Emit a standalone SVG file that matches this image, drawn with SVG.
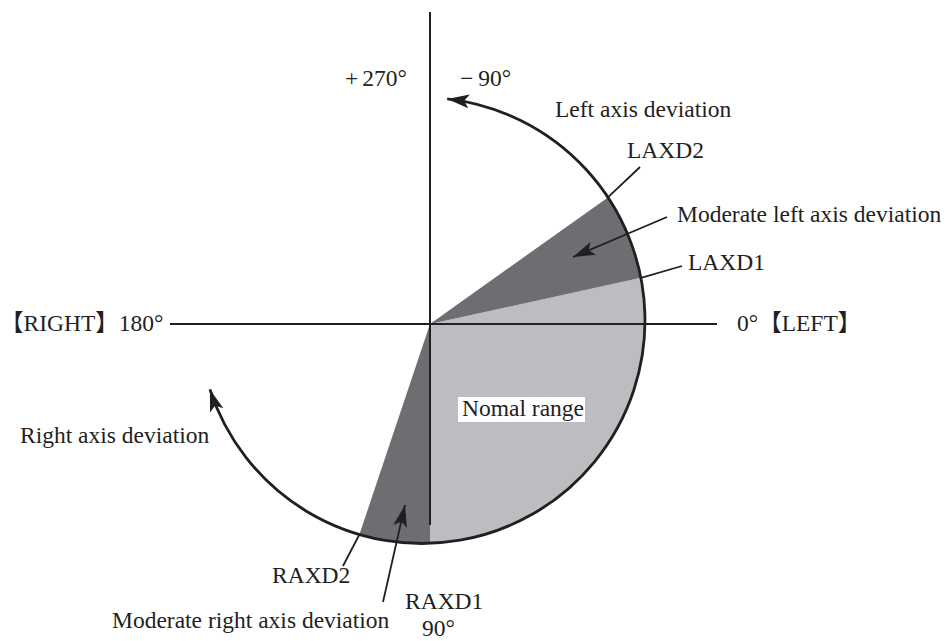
<svg xmlns="http://www.w3.org/2000/svg" width="950" height="641" viewBox="0 0 950 641">
<style>
text{font-family:"Liberation Serif","Noto Sans CJK JP",serif;font-size:23.5px;fill:#231f20}
.ax{stroke:#231f20;stroke-width:2;fill:none}
.arc{stroke:#231f20;stroke-width:2.8;fill:none}
.ld{stroke:#231f20;stroke-width:1.8;fill:none}
.light{fill:#bcbdc0}
.dark{fill:#6d6e72}
</style>
<defs>
<marker id="ah" markerUnits="userSpaceOnUse" markerWidth="24" markerHeight="16" viewBox="0 0 24 16" refX="22" refY="8" orient="auto-start-reverse">
<path d="M0,1 L22,8 L0,15 L5,8 Z" fill="#231f20"/>
</marker>
</defs>
<rect width="950" height="641" fill="#fff"/>
<g id="sectors">
<path id="normal" class="light" d="M430,324 L640.9,277.8 A223,223 0 0 1 430,543.4 Z"/>
<path id="mlad" class="dark" d="M430,324 L607.9,197.4 A223,223 0 0 1 640.9,277.8 Z"/>
<path id="mrad" class="dark" d="M430,324 L430,543.4 A223,223 0 0 1 359.4,534.5 Z"/>
</g>
<g id="axes">
<line class="ax" x1="170" y1="324" x2="717" y2="324"/>
<line class="ax" x1="430" y1="12" x2="430" y2="525"/>
</g>
<g id="connectors">
<path id="arc" class="arc" d="M447.2,98.9 A223,223 0 1 1 209.9,389.4" marker-start="url(#ah)" marker-end="url(#ah)"/>
<line class="ld" x1="607.9" y1="197.4" x2="640" y2="167"/>
<line class="ld" x1="667" y1="217" x2="573" y2="257" marker-end="url(#ah)"/>
<line class="ld" x1="641" y1="277.8" x2="682" y2="266"/>
<line class="ld" x1="359.4" y1="534.5" x2="343" y2="566"/>
<line class="ld" x1="383" y1="602" x2="405" y2="505" marker-end="url(#ah)"/>
</g>
<g id="labels">
<text x="345" y="86">+<tspan dx="4">270°</tspan></text>
<text x="460" y="86">−<tspan dx="5">90°</tspan></text>
<text x="555" y="117">Left axis deviation</text>
<text x="627" y="158">LAXD2</text>
<text x="677" y="222">Moderate left axis deviation</text>
<text x="688" y="270">LAXD1</text>
<text x="737" y="331">0°【LEFT】</text>
<text x="0" y="331">【RIGHT】180°</text>
<g id="normal-label">
<rect x="458" y="397" width="127" height="25" fill="#fff"/>
<text x="462" y="416">Nomal range</text>
</g>
<text x="20" y="443">Right axis deviation</text>
<text x="272" y="583">RAXD2</text>
<text x="405" y="609">RAXD1</text>
<text x="112" y="628">Moderate right axis deviation</text>
<text x="422" y="636">90°</text>
</g>
</svg>
